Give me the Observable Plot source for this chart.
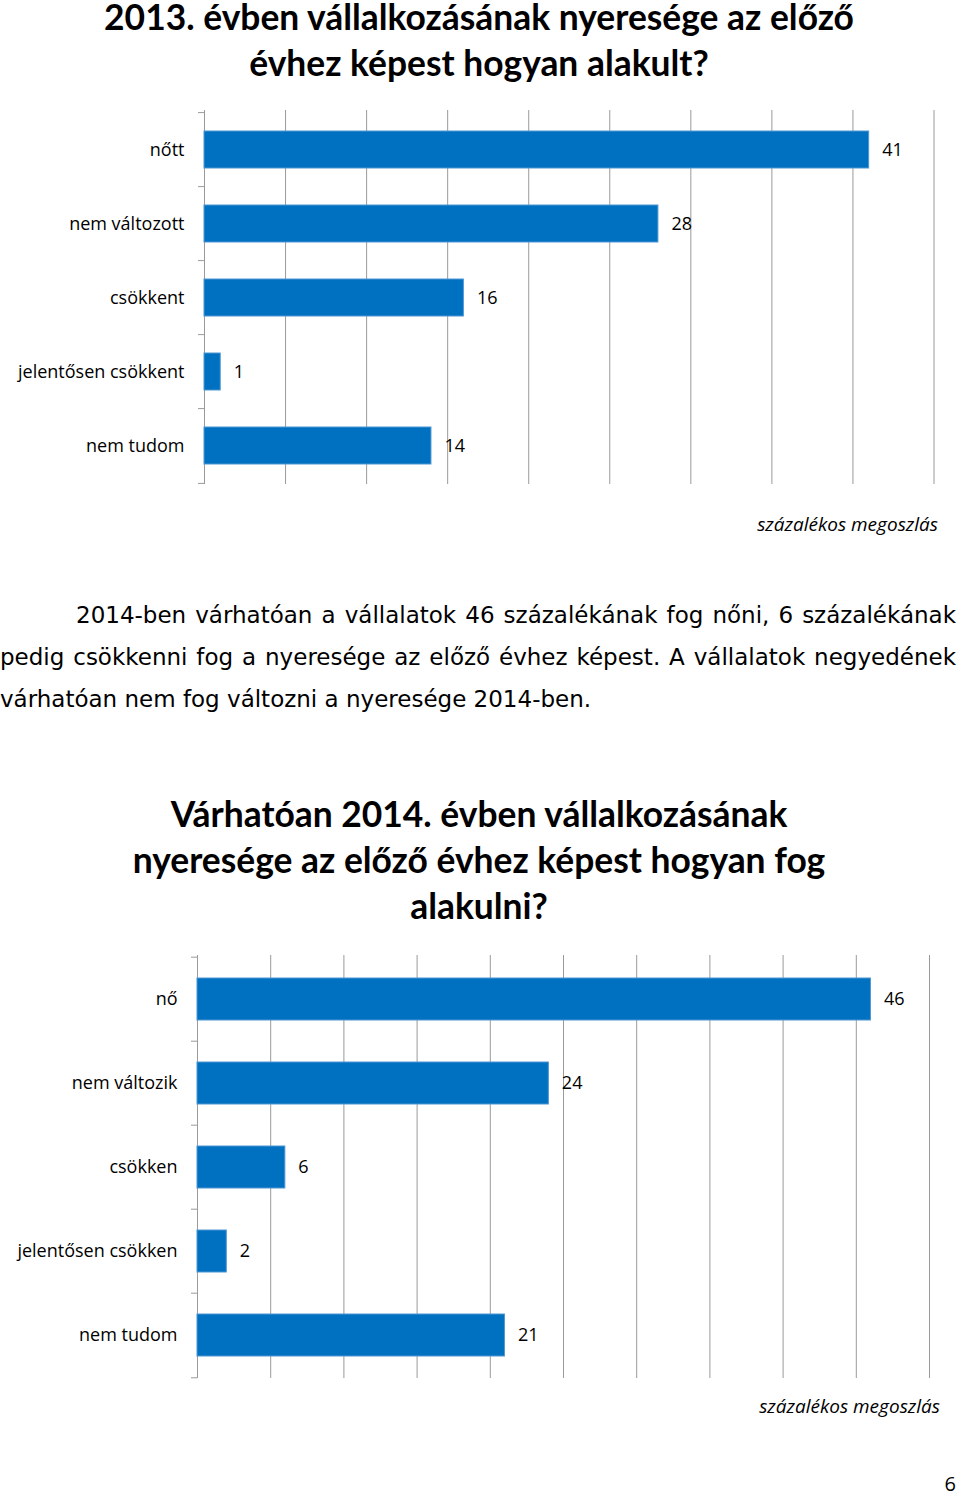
<!DOCTYPE html>
<html><head><meta charset="utf-8">
<script src="https://cdn.jsdelivr.net/npm/d3@7"></script>
<script src="https://cdn.jsdelivr.net/npm/@observablehq/plot@0.6"></script>
<style>
html,body{margin:0;padding:0;background:#fff;}
body{width:960px;height:1495px;position:relative;overflow:hidden;}
.abs{position:absolute;}
.title{font-family:Lato,"Open Sans",sans-serif;font-weight:bold;font-size:35.4px;line-height:46px;text-align:center;color:#000;left:0;width:958px;}
.note{font-family:"Open Sans",sans-serif;font-style:italic;font-size:19px;color:#000;text-align:right;}
.para{font-family:"DejaVu Sans",sans-serif;font-size:23px;line-height:42px;color:#000;left:0;width:956px;}
.para div{text-align:justify;text-align-last:justify;white-space:nowrap;}
.para div.last{text-align-last:left;}
.page{font-family:"Open Sans",sans-serif;font-size:20px;color:#000;}
svg{position:absolute;left:0;}
</style>
</head><body>
<div class="abs title" id="t1" style="top:-6px;">2013. évben vállalkozásának nyeresége az előző<br>évhez képest hogyan alakult?</div>
<div class="abs note" style="top:511px;right:22px;">százalékos megoszlás</div>
<div class="abs para" style="top:594px;">
<div style="padding-left:76px;">2014-ben várhatóan a vállalatok 46 százalékának fog nőni, 6 százalékának</div>
<div>pedig csökkenni fog a nyeresége az előző évhez képest. A vállalatok negyedének</div>
<div class="last">várhatóan nem fog változni a nyeresége 2014-ben.</div>
</div>
<div class="abs title" id="t2" style="top:791px;">Várhatóan 2014. évben vállalkozásának<br>nyeresége az előző évhez képest hogyan fog<br>alakulni?</div>
<div class="abs note" style="top:1393px;right:20px;">százalékos megoszlás</div>
<div class="abs page" style="top:1470px;right:4px;">6</div>
<div id="c1"></div>
<div id="c2"></div>
<script>
// Chart 1 data (2013)
const cats1 = ["nőtt", "nem változott", "csökkent", "jelentősen csökkent", "nem tudom"];
const vals1 = [41, 28, 16, 1, 14];
const grid1 = [5, 10, 15, 20, 25, 30, 35, 40, 45];
const xMax1 = 45;

// Chart 2 data (2014 expected)
const cats2 = ["nő", "nem változik", "csökken", "jelentősen csökken", "nem tudom"];
const vals2 = [46, 24, 6, 2, 21];
const grid2 = [5, 10, 15, 20, 25, 30, 35, 40, 45, 50];
const xMax2 = 50;

function chart(cats, vals, grid, xMax, o) {
  const data = cats.map((c, i) => ({cat: c, value: vals[i]}));
  const plotH = o.height - o.marginTop - o.marginBottom;
  const step = plotH / cats.length;
  const svg = Plot.plot({
    width: 960,
    height: o.height,
    marginLeft: o.marginLeft,
    marginRight: o.marginRight,
    marginTop: o.marginTop,
    marginBottom: o.marginBottom,
    style: {fontFamily: "'Open Sans', sans-serif", fontSize: "18px", color: "#000", background: "transparent"},
    x: {domain: [0, xMax], axis: null},
    y: {domain: cats, paddingInner: 0.5, paddingOuter: 0.25, axis: null},
    marks: [
      Plot.ruleX(grid, {stroke: "#9a9a9a", strokeWidth: 1, strokeOpacity: 1}),
      Plot.ruleX([0], {stroke: "#9a9a9a", strokeWidth: 1, strokeOpacity: 1}),
      Plot.axisY({tickSize: 0, tickPadding: 20, fontSize: 18, fill: "#000", label: null}),
      Plot.axisY(cats, {tickSize: 6, tickFormat: () => "", label: null, dy: -step / 2, stroke: "#9a9a9a", strokeOpacity: 1}),
      Plot.axisY([cats[cats.length - 1]], {tickSize: 6, tickFormat: () => "", label: null, dy: step / 2, stroke: "#9a9a9a", strokeOpacity: 1}),
      Plot.barX(data, {x: "value", y: "cat", fill: "#0070C0", stroke: "#4F97D3", strokeWidth: 1}),
      Plot.text(data, {x: "value", y: "cat", text: d => String(d.value), dx: 13, textAnchor: "start", fontSize: 18, fill: "#000"})
    ]
  });
  svg.style.top = o.top + "px";
  return svg;
}

document.getElementById("c1").appendChild(
  chart(cats1, vals1, grid1, xMax1, {top: 100, height: 395, marginLeft: 204, marginRight: 26.5, marginTop: 10, marginBottom: 11})
);
document.getElementById("c2").appendChild(
  chart(cats2, vals2, grid2, xMax2, {top: 945, height: 444, marginLeft: 197, marginRight: 31, marginTop: 10, marginBottom: 11})
);
</script>
</body></html>
